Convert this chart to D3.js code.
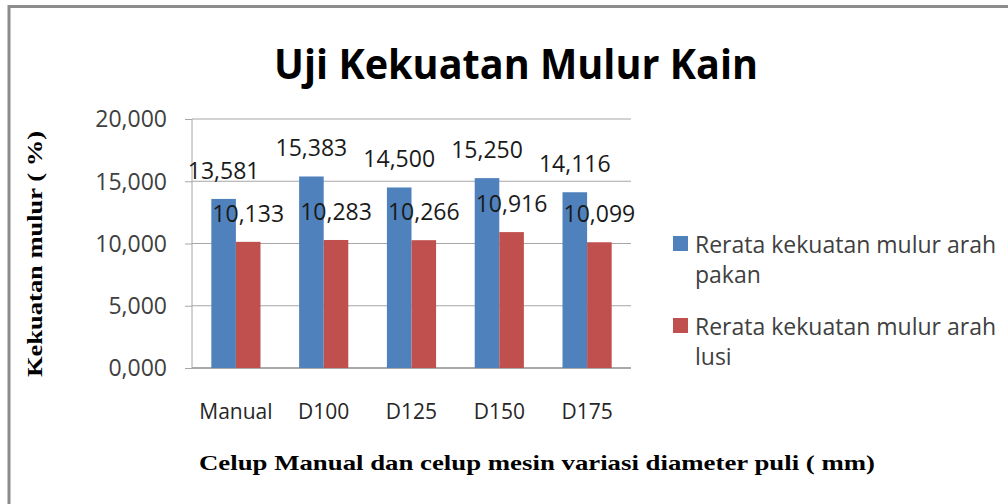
<!DOCTYPE html>
<html>
<head>
<meta charset="utf-8">
<script src="https://cdn.jsdelivr.net/npm/d3@7"></script>
<style>
  html, body { margin: 0; padding: 0; background: #fff; }
  svg { display: block; }
</style>
</head>
<body>
<div class="plot-container"></div>
<script>
// chart data
const categories = ["Manual", "D100", "D125", "D150", "D175"];
const pakanValues = [13.581, 15.383, 14.500, 15.250, 14.116];
const lusiValues = [10.133, 10.283, 10.266, 10.916, 10.099];
const seriesNames = ["Rerata kekuatan mulur arah pakan", "Rerata kekuatan mulur arah lusi"];
const yTicks = [0, 5, 10, 15, 20];

const width = 1008, height = 504;
const plot = { left: 192, right: 631, top: 119, bottom: 368 };
const colors = ["#4f81bd", "#c0504d"];

const fmt = (v) => d3.format(",.3f")(v).replace(".", ",");

const svg = d3.select("div.plot-container")
  .append("svg")
  .attr("width", width)
  .attr("height", height);

// outer frame
svg.append("rect")
  .attr("x", 9).attr("y", 6.5)
  .attr("width", 1020).attr("height", 520)
  .attr("fill", "none")
  .attr("stroke", "#8c8c8c")
  .attr("stroke-width", 3);

let x = d3.scaleBand()
  .domain(categories)
  .range([plot.left, plot.right]);

let y = d3.scaleLinear()
  .domain([0, 20])
  .range([plot.bottom, plot.top]);

let barW = x.bandwidth() * 0.28;

// y tick marks
svg.append("g")
  .attr("transform", `translate(${plot.left},0)`)
  .call(d3.axisLeft(y).tickValues(yTicks).tickSize(7).tickFormat(""))
  .call(g => g.select(".domain").remove())
  .call(g => g.selectAll("line").attr("stroke", "#a6a6a6"));

// gridlines
svg.append("g")
  .selectAll("line")
  .data(yTicks)
  .join("line")
  .attr("x1", plot.left).attr("x2", plot.right)
  .attr("y1", d => y(d)).attr("y2", d => y(d))
  .attr("stroke", d => d === 0 ? "#8c8c8c" : "#a6a6a6")
  .attr("stroke-width", d => d === 0 ? 1.5 : 1);

// vertical axis line
svg.append("line")
  .attr("x1", plot.left).attr("x2", plot.left)
  .attr("y1", plot.top).attr("y2", plot.bottom)
  .attr("stroke", "#a6a6a6");

// y tick labels
svg.append("g")
  .selectAll("text")
  .data(yTicks)
  .join("text")
  .attr("x", 167)
  .attr("y", d => y(d))
  .attr("dy", "0.36em")
  .attr("text-anchor", "end")
  .attr("font-family", "Open Sans, sans-serif")
  .attr("font-size", 23)
  .attr("fill", "#404040")
  .text(d => fmt(d));

// bars + data labels
const series = [pakanValues, lusiValues];
series.forEach((vals, s) => {
  let g = svg.append("g");
  g.selectAll("rect")
    .data(vals)
    .join("rect")
    .attr("x", (d, i) => x(categories[i]) + x.bandwidth() / 2 - barW + s * barW)
    .attr("y", d => y(d))
    .attr("width", barW)
    .attr("height", d => y(0) - y(d))
    .attr("fill", colors[s]);

  g.selectAll("text")
    .data(vals)
    .join("text")
    .attr("x", (d, i) => x(categories[i]) + x.bandwidth() / 2 - barW / 2 + s * barW)
    .attr("y", d => y(d) - 20)
    .attr("text-anchor", "middle")
    .attr("font-family", "Open Sans, sans-serif")
    .attr("font-size", 23)
    .attr("fill", "#1a1a1a")
    .text(d => fmt(d));
});

// category labels
svg.append("g")
  .selectAll("text")
  .data(categories)
  .join("text")
  .attr("x", d => x(d) + x.bandwidth() / 2)
  .attr("y", 419)
  .attr("text-anchor", "middle")
  .attr("font-family", "Open Sans, sans-serif")
  .attr("font-size", 21)
  .attr("fill", "#262626")
  .text(d => d);

// title
svg.append("text")
  .attr("x", 516).attr("y", 79)
  .attr("text-anchor", "middle")
  .attr("font-family", "Open Sans, sans-serif")
  .attr("font-weight", "bold")
  .attr("font-size", 42)
  .attr("textLength", 484)
  .attr("lengthAdjust", "spacingAndGlyphs")
  .text("Uji Kekuatan Mulur Kain");

// axis titles
svg.append("text")
  .attr("transform", "translate(42,254) rotate(-90)")
  .attr("text-anchor", "middle")
  .attr("font-family", "Liberation Serif, serif")
  .attr("font-weight", "bold")
  .attr("font-size", 22)
  .attr("textLength", 246)
  .attr("lengthAdjust", "spacingAndGlyphs")
  .text("Kekuatan mulur ( %)");

svg.append("text")
  .attr("x", 537).attr("y", 470)
  .attr("text-anchor", "middle")
  .attr("font-family", "Liberation Serif, serif")
  .attr("font-weight", "bold")
  .attr("font-size", 22)
  .attr("textLength", 676)
  .attr("lengthAdjust", "spacingAndGlyphs")
  .text("Celup Manual dan celup mesin variasi diameter puli ( mm)");

// legend
const legendLines = [["Rerata kekuatan mulur arah", "pakan"], ["Rerata kekuatan mulur arah", "lusi"]];
const legend = svg.append("g");
legendLines.forEach((lines, i) => {
  let top = 236 + i * 82;
  legend.append("rect")
    .attr("x", 673).attr("y", top)
    .attr("width", 15).attr("height", 15)
    .attr("fill", colors[i]);
  lines.forEach((t, j) => {
    legend.append("text")
      .attr("x", 695)
      .attr("y", top + 17 + j * 30)
      .attr("font-family", "Open Sans, sans-serif")
      .attr("font-size", 23)
      .attr("fill", "#404040")
      .text(t);
  });
});
</script>
</body>
</html>
